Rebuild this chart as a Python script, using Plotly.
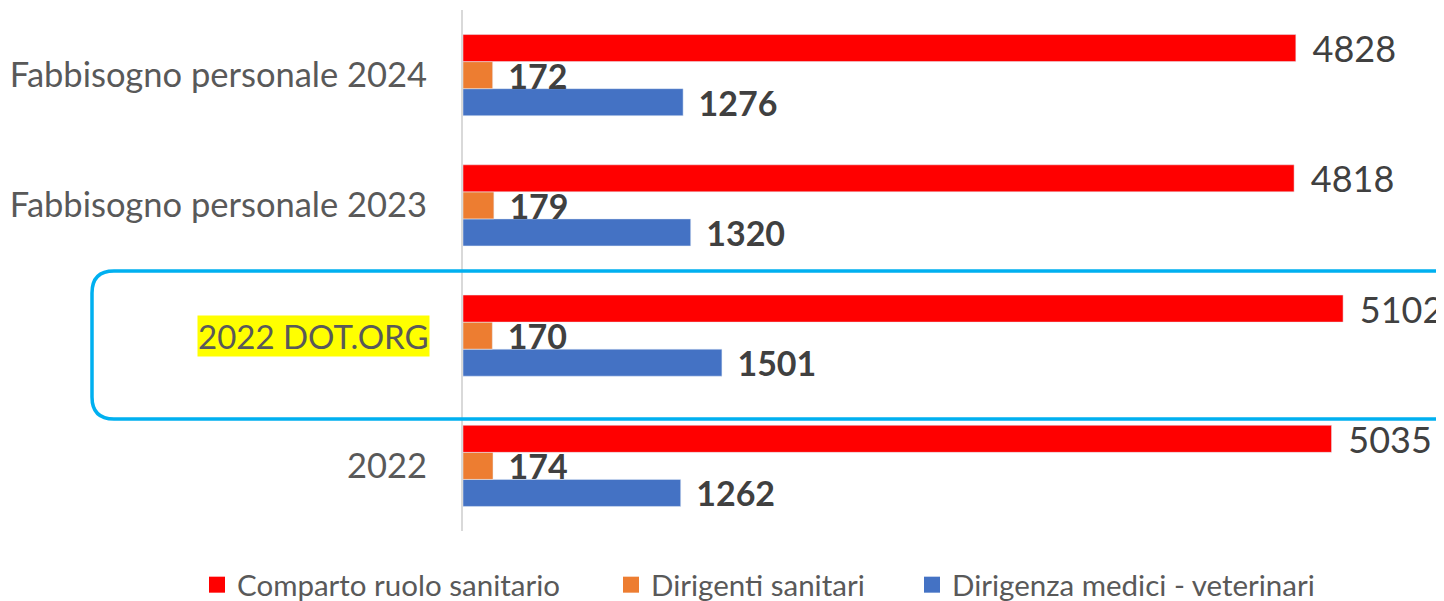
import plotly.graph_objects as go

categories = ["2022", "2022 DOT.ORG", "Fabbisogno personale 2023", "Fabbisogno personale 2024"]
series_names = ["Comparto ruolo sanitario", "Dirigenti sanitari", "Dirigenza medici - veterinari"]
series_colors = ["#FF0000", "#ED7D31", "#4472C4"]
comparto = [5035, 5102, 4818, 4828]
dirigenti = [174, 170, 179, 172]
dirigenza = [1262, 1501, 1320, 1276]
highlight_label = "2022 DOT.ORG"

FONT = "Lato, 'Open Sans', sans-serif"
OFF = 8  # default page body margin
W, H = 1444 - OFF, 601 - OFF
L, T, B, R = 463 - OFF, 2, 70, 0
PAD = "\u00a0\u2009"

plot_w = W - L - R
plot_h = H - T - B
xmax = plot_w / 0.1725


def px_x(p):
    """reference-image x pixel -> paper coordinate"""
    return (p - OFF - L) / plot_w


def px_y(p):
    """reference-image y pixel -> paper coordinate"""
    return (H - B - (p - OFF)) / plot_h


fig = go.Figure()
values = [comparto, dirigenti, dirigenza]
bold = [False, True, True]
sizes = [36, 34, 34]
# add in reverse so red is on top within each group
for i in [2, 1, 0]:
    fig.add_trace(go.Bar(
        y=categories, x=values[i], name=series_names[i], orientation="h",
        marker=dict(color=series_colors[i]),
        text=values[i], texttemplate=PAD + "%{x}", textposition="outside",
        textfont=dict(family=FONT, size=sizes[i], color="#404040",
                      weight="bold" if bold[i] else "normal"),
        cliponaxis=False, constraintext="none", showlegend=False))

# legend entries (square swatches)
legend_ids = ["legend", "legend2", "legend3"]
for i in range(3):
    fig.add_trace(go.Scatter(
        x=[None], y=[None], mode="markers", name=series_names[i],
        marker=dict(symbol="square", size=16, color=series_colors[i]),
        legend=legend_ids[i], showlegend=True, hoverinfo="skip"))

ticktext = ["" if c == highlight_label else c for c in categories]

leg_common = dict(orientation="h", xanchor="left", yanchor="middle", y=px_y(585),
                  font=dict(family=FONT, size=29.5, color="#595959"),
                  itemclick=False, bgcolor="rgba(0,0,0,0)", borderwidth=0)
legend_centers = [218, 632, 933]

fig.update_layout(
    width=W, height=H,
    margin=dict(l=L, r=R, t=T, b=B, pad=0, autoexpand=False),
    paper_bgcolor="white", plot_bgcolor="white",
    barmode="group", bargap=0.377, bargroupgap=0,
    font=dict(family=FONT, color="#595959"),
    xaxis=dict(range=[0, xmax], visible=False, showgrid=False, zeroline=False),
    yaxis=dict(categoryorder="array", categoryarray=categories,
               tickmode="array", tickvals=categories, ticktext=ticktext,
               showline=True, linecolor="#D9D9D9", linewidth=2,
               ticks="", ticklabelstandoff=27, automargin=False,
               tickfont=dict(family=FONT, size=34.5, color="#595959"),
               showgrid=False, zeroline=False),
    legend=dict(x=px_x(legend_centers[0] - 21), **leg_common),
    legend2=dict(x=px_x(legend_centers[1] - 21), **leg_common),
    legend3=dict(x=px_x(legend_centers[2] - 21), **leg_common),
    showlegend=True,
)

# highlighted category label
fig.add_annotation(
    xref="paper", yref="y", x=-33 / plot_w, y=highlight_label,
    xanchor="right", yanchor="middle", showarrow=False,
    text=highlight_label, bgcolor="#FFFF00", borderpad=0,
    font=dict(family=FONT, size=33, color="#595959"))

# rounded callout box (open on the right)
x0 = px_x(92)
x1 = px_x(1470)
yt = px_y(271)
yb = px_y(419)
rx = 22 / plot_w
ry = 22 / plot_h
path = (f"M {x1},{yt} L {x0 + rx},{yt} Q {x0},{yt} {x0},{yt - ry} "
        f"L {x0},{yb + ry} Q {x0},{yb} {x0 + rx},{yb} L {x1},{yb}")
fig.add_shape(type="path", xref="paper", yref="paper", path=path,
              line=dict(color="#00B0F0", width=3.5), layer="above")

fig.write_html("out.html")
